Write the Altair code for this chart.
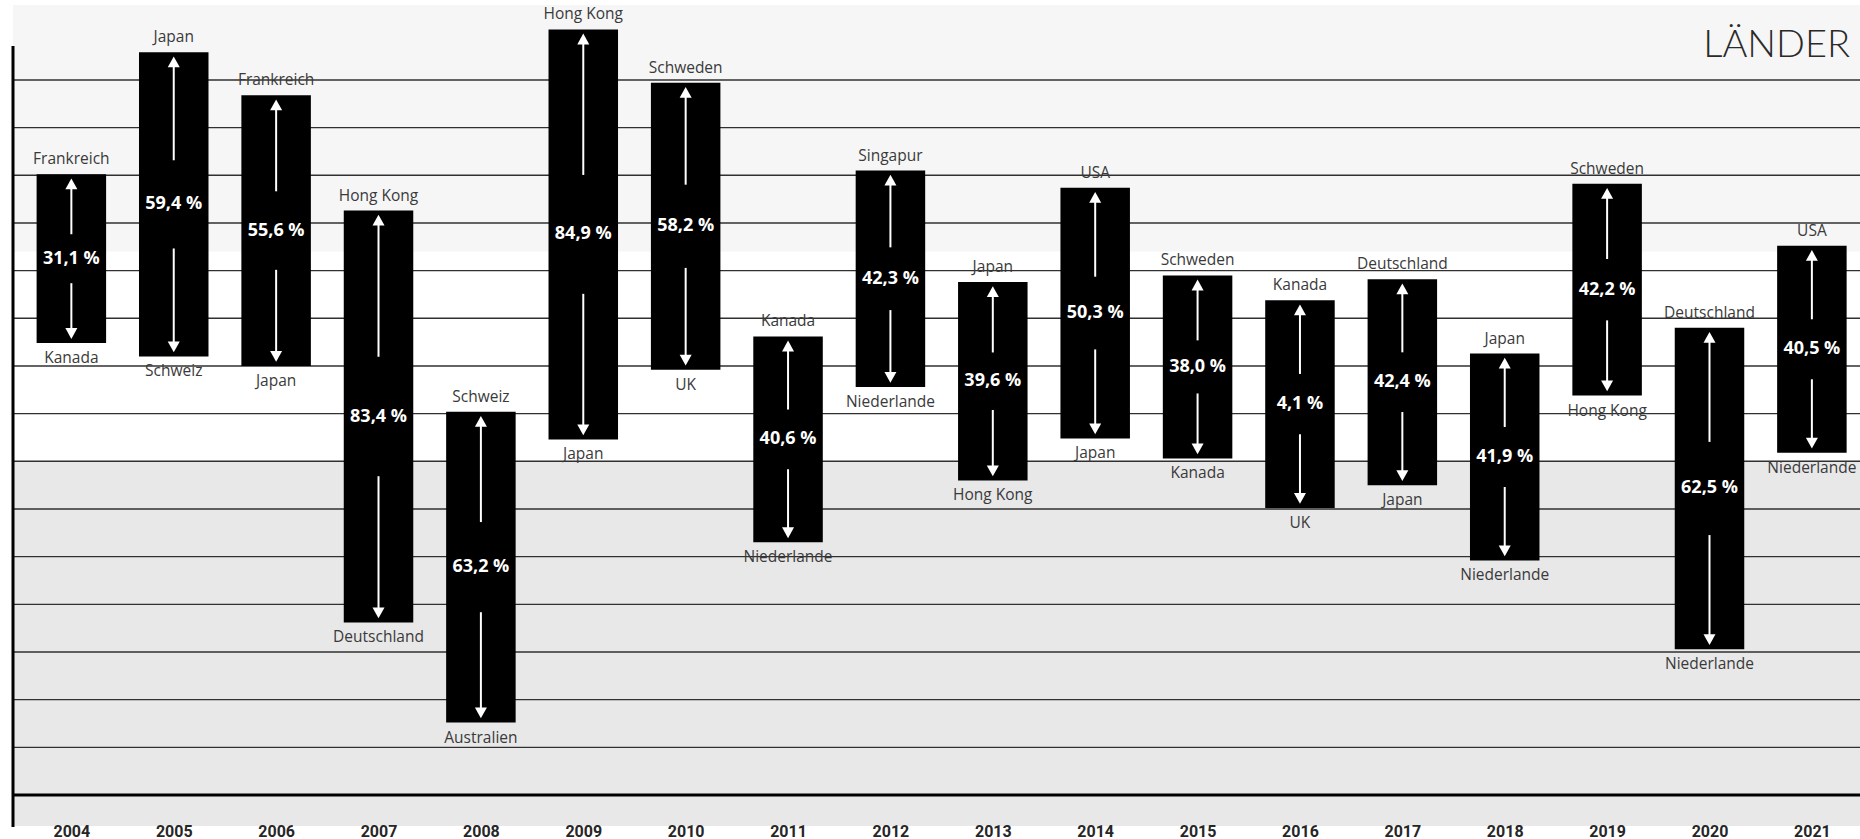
import altair as alt
import pandas as pd

# ---- data ----
years = list(range(2004, 2022))
high_values = [65.1, 77.9, 73.4, 61.3, 40.2, 80.3, 74.7, 48.1, 65.5, 53.8, 63.7, 54.5, 51.9, 54.1, 46.3, 64.1, 49.0, 57.6]
low_values = [47.4, 46.0, 45.0, 18.1, 7.6, 37.3, 44.6, 26.5, 42.8, 33.0, 37.4, 35.3, 30.1, 32.5, 24.6, 41.9, 15.3, 35.9]
top_countries = ["Frankreich", "Japan", "Frankreich", "Hong Kong", "Schweiz", "Hong Kong", "Schweden", "Kanada",
                 "Singapur", "Japan", "USA", "Schweden", "Kanada", "Deutschland", "Japan", "Schweden",
                 "Deutschland", "USA"]
bottom_countries = ["Kanada", "Schweiz", "Japan", "Deutschland", "Australien", "Japan", "UK", "Niederlande",
                    "Niederlande", "Hong Kong", "Japan", "Kanada", "UK", "Japan", "Niederlande", "Hong Kong",
                    "Niederlande", "Niederlande"]
spread_pct = [31.1, 59.4, 55.6, 83.4, 63.2, 84.9, 58.2, 40.6, 42.3, 39.6, 50.3, 38.0, 4.1, 42.4, 41.9, 42.2, 62.5, 40.5]

grid_values = [5, 10, 15, 20, 25, 30, 35, 40, 45, 50, 55, 60, 65, 70, 75]
zero_value = [0]
band_from = [-3.25, 35, 57]
band_to = [35, 57, 82.86]
band_colors = ["#e8e8e8", "#ffffff", "#f6f6f6"]
title_text = ["LÄNDER"]

Y_DOMAIN = [-3.25, 82.86]
X_DOMAIN = [2003.43, 2021.47]
W, H = 1847, 821

df = pd.DataFrame({
    "year": years,
    "hi": high_values,
    "lo": low_values,
    "top": top_countries,
    "bottom": bottom_countries,
    "pct": [f"{v:.1f}".replace(".", ",") + " %" for v in spread_pct],
})

xscale = alt.Scale(domain=X_DOMAIN, nice=False, zero=False, padding=0)
yscale = alt.Scale(domain=Y_DOMAIN, nice=False, zero=False, padding=0)

label_font = "Open Sans"

bands = alt.Chart(pd.DataFrame({"f": band_from, "t": band_to, "c": band_colors})).mark_rect().encode(
    y=alt.Y("f:Q", scale=yscale, axis=None),
    y2="t:Q",
    x=alt.value(0),
    x2=alt.value(W),
    color=alt.Color("c:N", scale=None),
)

grid = alt.Chart(pd.DataFrame({"v": grid_values})).mark_rule(color="#303030", strokeWidth=1.4).encode(
    y=alt.Y("v:Q", scale=yscale, axis=None),
    x=alt.value(0),
    x2=alt.value(W),
)

zero = alt.Chart(pd.DataFrame({"v": zero_value})).mark_rule(color="#000000", strokeWidth=3).encode(
    y=alt.Y("v:Q", scale=yscale, axis=None),
    x=alt.value(0),
    x2=alt.value(W),
)

yaxis_line = alt.Chart(pd.DataFrame({"v": zero_value})).mark_rule(color="#000000", strokeWidth=3).encode(
    x=alt.value(0),
    y=alt.value(41),
    y2=alt.value(822),
)

base = alt.Chart(df).transform_calculate(
    mid="(datum.hi + datum.lo) / 2",
    gap="0.145 * (datum.hi - datum.lo)",
).transform_calculate(
    up_start="datum.mid + datum.gap",
    dn_start="datum.mid - datum.gap",
)

xaxis = alt.Axis(values=years, format="d", ticks=False, domain=False, grid=False, title=None,
                 labelFont="Roboto", labelFontWeight="bold", labelFontSize=16,
                 labelColor="#262626", labelPadding=-3, zindex=1)

bars = base.mark_bar(color="#000000", size=69.5).encode(
    x=alt.X("year:Q", scale=xscale, axis=xaxis),
    y=alt.Y("lo:Q", scale=yscale, axis=None),
    y2="hi:Q",
)

up_line = base.mark_rule(color="white", strokeWidth=2, y2Offset=14).encode(
    x=alt.X("year:Q", scale=xscale),
    y=alt.Y("up_start:Q", scale=yscale),
    y2="hi:Q",
)
down_line = base.mark_rule(color="white", strokeWidth=2, y2Offset=-14).encode(
    x=alt.X("year:Q", scale=xscale),
    y=alt.Y("dn_start:Q", scale=yscale),
    y2="lo:Q",
)
up_head = base.mark_point(shape="M-0.5,0L0,-0.9L0.5,0Z", size=576, filled=True, color="white",
                          opacity=1, yOffset=15).encode(
    x=alt.X("year:Q", scale=xscale),
    y=alt.Y("hi:Q", scale=yscale),
)
down_head = base.mark_point(shape="M-0.5,0L0,0.9L0.5,0Z", size=576, filled=True, color="white",
                            opacity=1, yOffset=-15).encode(
    x=alt.X("year:Q", scale=xscale),
    y=alt.Y("lo:Q", scale=yscale),
)

pct_text = base.mark_text(color="white", font=label_font, fontWeight="bold", fontSize=18,
                          baseline="middle", align="center").encode(
    x=alt.X("year:Q", scale=xscale),
    y=alt.Y("mid:Q", scale=yscale),
    text="pct:N",
)
top_text = base.mark_text(color="#3a3a3a", font=label_font, fontSize=15.5, baseline="middle",
                          align="center", dy=-15).encode(
    x=alt.X("year:Q", scale=xscale),
    y=alt.Y("hi:Q", scale=yscale),
    text="top:N",
)
bottom_text = base.mark_text(color="#3a3a3a", font=label_font, fontSize=15.5, baseline="middle",
                             align="center", dy=15).encode(
    x=alt.X("year:Q", scale=xscale),
    y=alt.Y("lo:Q", scale=yscale),
    text="bottom:N",
)

title = alt.Chart(pd.DataFrame({"t": title_text})).mark_text(
    font="Lato", fontWeight=300, fontSize=38, color="#2a2a2a", align="right", baseline="middle"
).encode(
    x=alt.value(1837),
    y=alt.value(41),
    text="t:N",
)

chart = alt.layer(
    bands, grid, zero, bars, up_line, down_line, up_head, down_head,
    pct_text, top_text, bottom_text, yaxis_line, title
).properties(
    width=W,
    height=H,
    padding={"left": 13, "top": 5, "right": 0, "bottom": 13},
    autosize=alt.AutoSizeParams(type="none"),
    background="white",
).configure_view(stroke=None)

chart.save("out.html", embed_options={"renderer": "svg", "actions": False})
